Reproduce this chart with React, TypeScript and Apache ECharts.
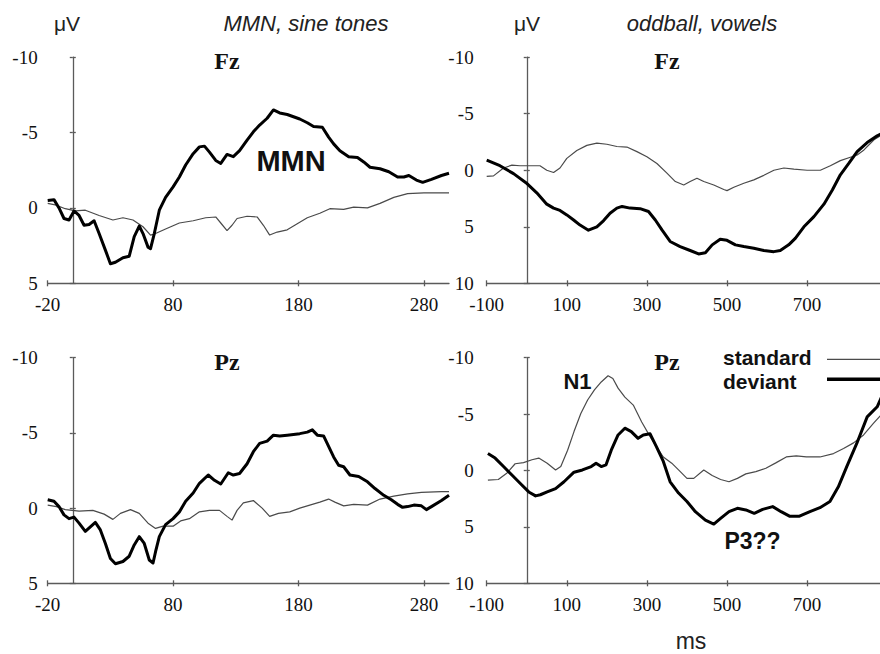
import React, { useEffect, useRef } from "react";
import * as echarts from "echarts";

// ---------- data (ms, µV) ----------
// MMN, sine tones — Fz
const mmnFzStandard: [number, number][] = [
  [-20, -0.3], [-14, -0.2], [-6, 0.05], [2, 0.2], [10, 0.15], [21, 0.5], [32, 0.8], [40, 0.65], [48, 0.8],
  [56, 1.25], [62, 1.8], [66, 1.7], [74, 1.4], [85, 1.0], [96, 0.85], [106, 0.65], [114, 0.6], [118, 1.0],
  [123, 1.5], [127, 1.15], [131, 0.7], [139, 0.55], [147, 0.6], [152, 1.15], [157, 1.8], [163, 1.6],
  [171, 1.45], [179, 1.05], [187, 0.65], [197, 0.35], [205, 0.05], [216, 0.1], [224, -0.05], [235, 0],
  [245, -0.3], [256, -0.7], [267, -0.95], [280, -1.0], [294, -1.0], [300, -1.0],
];
const mmnFzDeviant: [number, number][] = [
  [-20, -0.5], [-15, -0.55], [-11, 0], [-7, 0.7], [-3, 0.8], [1, 0.2], [5, 0.5], [9, 1.15], [13, 1.1],
  [17, 0.85], [21, 1.7], [26, 2.8], [30, 3.7], [34, 3.6], [40, 3.3], [45, 3.2], [49, 1.9], [53, 1.2],
  [56, 1.7], [60, 2.6], [62, 2.7], [65, 1.7], [69, 0.15], [74, -0.7], [80, -1.4], [85, -2.05], [90, -2.85],
  [96, -3.6], [101, -4.05], [105, -4.1], [109, -3.7], [114, -3.15], [118, -2.95], [123, -3.55], [128, -3.4],
  [133, -3.8], [139, -4.5], [144, -5.05], [149, -5.5], [155, -5.95], [160, -6.5], [165, -6.3], [171, -6.2],
  [176, -6.05], [181, -5.9], [187, -5.65], [192, -5.4], [199, -5.35], [204, -4.7], [208, -4.25], [213, -3.8],
  [220, -3.4], [227, -3.35], [232, -3.05], [237, -2.7], [245, -2.6], [252, -2.4], [259, -2.05], [264, -2.05],
  [268, -2.15], [274, -1.85], [279, -1.7], [286, -1.9], [294, -2.15], [300, -2.3],
];

// oddball, vowels — Fz
const oddFzStandard: [number, number][] = [
  [-100, 0.55], [-83, 0.5], [-58, -0.2], [-37, -0.45], [-17, -0.4], [8, -0.4], [33, -0.4], [50, 0],
  [67, 0.2], [83, -0.2], [100, -1.05], [125, -1.75], [150, -2.2], [175, -2.4], [200, -2.3], [225, -2.1],
  [250, -2.05], [275, -1.65], [300, -1.2], [325, -0.6], [350, 0.25], [371, 1.0], [392, 1.3], [408, 1.0],
  [425, 0.7], [442, 1.0], [467, 1.3], [492, 1.7], [500, 1.8], [517, 1.5], [542, 1.15], [567, 0.85],
  [592, 0.45], [617, 0], [642, -0.2], [667, -0.1], [700, 0], [733, 0], [758, -0.4], [783, -0.85],
  [808, -1.15], [825, -1.35], [842, -1.8], [867, -2.7], [890, -3.2],
];
const oddFzDeviant: [number, number][] = [
  [-100, -0.9], [-67, -0.4], [-33, 0.3], [-2, 1.1], [25, 2.0], [50, 3.0], [67, 3.35], [83, 3.55],
  [100, 3.95], [117, 4.4], [133, 4.85], [154, 5.3], [175, 5.0], [192, 4.45], [208, 3.8], [225, 3.35],
  [238, 3.2], [258, 3.35], [283, 3.4], [304, 3.65], [321, 4.4], [338, 5.3], [358, 6.3], [383, 6.75],
  [408, 7.1], [429, 7.4], [446, 7.3], [463, 6.6], [483, 6.1], [500, 6.2], [521, 6.6], [542, 6.75],
  [567, 6.9], [592, 7.1], [617, 7.2], [633, 7.1], [654, 6.6], [671, 6.0], [692, 5.0], [717, 4.1],
  [742, 3.0], [763, 1.75], [783, 0.4], [804, -0.6], [825, -1.65], [850, -2.45], [875, -3.05], [890, -3.3],
];

// MMN, sine tones — Pz
const mmnPzStandard: [number, number][] = [
  [-20, -0.2], [-13, -0.1], [-6, 0.1], [5, 0.2], [16, 0.15], [25, 0.4], [32, 0.75], [38, 0.35], [46, 0.1],
  [53, 0.35], [60, 1.0], [66, 1.35], [72, 1.2], [80, 1.2], [86, 0.85], [93, 0.7], [101, 0.25], [109, 0.15],
  [117, 0.15], [123, 0.55], [127, 0.8], [131, 0.15], [136, -0.35], [144, -0.5], [151, 0], [157, 0.55],
  [164, 0.35], [173, 0.25], [181, 0], [189, -0.2], [197, -0.4], [204, -0.6], [209, -0.4], [216, -0.15],
  [224, -0.25], [235, -0.2], [245, -0.6], [256, -0.8], [267, -0.95], [278, -1.05], [294, -1.1], [300, -1.1],
];
const mmnPzDeviant: [number, number][] = [
  [-20, -0.55], [-15, -0.45], [-11, -0.1], [-7, 0.45], [-3, 0.7], [1, 0.6], [5, 1.0], [10, 1.55],
  [14, 1.25], [18, 0.95], [22, 1.45], [26, 2.35], [30, 3.35], [34, 3.7], [40, 3.55], [45, 3.2], [49, 2.45],
  [53, 1.9], [57, 2.35], [61, 3.45], [64, 3.65], [66, 2.9], [69, 1.9], [74, 1.1], [80, 0.7], [85, 0.25],
  [90, -0.45], [96, -1.0], [101, -1.65], [108, -2.2], [113, -1.85], [118, -1.6], [124, -2.35], [128, -2.2],
  [133, -2.3], [139, -2.95], [144, -3.75], [149, -4.3], [155, -4.45], [160, -4.85], [165, -4.8],
  [171, -4.85], [176, -4.9], [181, -4.95], [187, -5.05], [191, -5.2], [195, -4.85], [200, -4.8],
  [204, -4.1], [208, -3.4], [212, -2.85], [216, -2.75], [221, -2.2], [228, -2.1], [235, -1.75],
  [241, -1.3], [248, -0.85], [254, -0.55], [259, -0.25], [263, -0.05], [267, -0.1], [272, -0.2],
  [278, -0.15], [282, 0.1], [286, -0.1], [294, -0.5], [300, -0.85],
];

// oddball, vowels — Pz
const oddPzStandard: [number, number][] = [
  [-97, 0.85], [-71, 0.8], [-50, 0.25], [-29, -0.6], [-8, -0.7], [13, -0.95], [30, -1.1], [51, -0.65],
  [72, -0.05], [85, -0.35], [102, -1.8], [118, -3.45], [135, -5.05], [152, -6.25], [169, -7.15],
  [186, -7.85], [203, -8.4], [215, -8.15], [228, -7.3], [245, -6.5], [266, -5.8], [287, -4.3], [308, -3.0],
  [324, -2.1], [341, -1.2], [362, -0.65], [379, -0.05], [400, 0.7], [417, 0.7], [442, -0.05], [463, 0.45],
  [484, 0.8], [505, 1.0], [526, 0.7], [547, 0.3], [572, 0.1], [597, -0.2], [623, -0.7], [648, -1.2],
  [673, -1.3], [698, -1.2], [732, -1.2], [766, -1.5], [791, -1.95], [816, -2.45], [841, -3.15],
  [866, -4.2], [892, -5.2],
];
const oddPzDeviant: [number, number][] = [
  [-97, -1.5], [-79, -1.1], [-58, -0.35], [-37, 0.4], [-16, 1.15], [5, 1.9], [22, 2.25], [34, 2.15],
  [51, 1.9], [72, 1.6], [93, 1.0], [118, 0.15], [139, -0.05], [161, -0.35], [173, -0.65], [186, -0.35],
  [198, -0.5], [211, -1.8], [228, -3.15], [245, -3.75], [261, -3.45], [278, -2.85], [291, -3.15],
  [308, -3.25], [324, -2.1], [341, -0.8], [358, 1.0], [379, 2.0], [400, 2.75], [421, 3.65], [446, 4.4],
  [467, 4.75], [484, 4.25], [505, 3.65], [526, 3.35], [547, 3.5], [568, 3.8], [589, 3.45], [614, 3.2],
  [635, 3.65], [656, 4.05], [681, 4.05], [707, 3.65], [732, 3.3], [757, 2.75], [778, 1.45], [799, -0.35],
  [824, -2.4], [850, -4.75], [875, -5.65], [892, -7.0],
];

// tick values
const mmnTicksMs = [-20, 80, 180, 280];
const oddTicksMs = [-100, 100, 300, 500, 700];
const seriesNames = ["standard", "deviant"];

// ---------- styles ----------
const SERIF = '"Liberation Serif", "Times New Roman", serif';
const SANS = '"Liberation Sans", Arial, sans-serif';
const AXIS = "#5a5a5a";
const TEXT = "#111";

type Panel = {
  box: { left: number; top: number; width: number; height: number };
  xMin: number; xMax: number; xStep: number; xTicks: number[];
  yMin: number; yMax: number; yMargin: number;
  std: [number, number][]; dev: [number, number][];
};

const panels: Panel[] = [
  { box: { left: 47.7, top: 57.2, width: 401.3, height: 226.1 }, xMin: -20, xMax: 300, xStep: 100, xTicks: mmnTicksMs, yMin: -10, yMax: 5, yMargin: 10, std: mmnFzStandard, dev: mmnFzDeviant },
  { box: { left: 486.7, top: 57.2, width: 393.3, height: 226.1 }, xMin: -100, xMax: 882, xStep: 200, xTicks: oddTicksMs, yMin: -10, yMax: 10, yMargin: 13, std: oddFzStandard, dev: oddFzDeviant },
  { box: { left: 47.7, top: 357.7, width: 401.3, height: 225.6 }, xMin: -20, xMax: 300, xStep: 100, xTicks: mmnTicksMs, yMin: -10, yMax: 5, yMargin: 10, std: mmnPzStandard, dev: mmnPzDeviant },
  { box: { left: 486.7, top: 357.7, width: 393.3, height: 225.6 }, xMin: -100, xMax: 882, xStep: 200, xTicks: oddTicksMs, yMin: -10, yMax: 10, yMargin: 13, std: oddPzStandard, dev: oddPzDeviant },
];

function buildOption() {
  const grid: any[] = [];
  const xAxis: any[] = [];
  const yAxis: any[] = [];
  const series: any[] = [];
  const labelStyle = { fontFamily: SERIF, fontSize: 19, color: TEXT };

  panels.forEach((p, i) => {
    grid.push({ ...p.box, containLabel: false, outerBoundsMode: "none" });
    const xi = xAxis.length;
    xAxis.push({
      type: "value", gridIndex: i, min: p.xMin, max: p.xMax, interval: p.xStep, position: "bottom",
      axisLine: { show: true, onZero: false, lineStyle: { color: AXIS, width: 1.3 } },
      axisTick: { show: true, inside: false, length: 3, customValues: p.xTicks, lineStyle: { color: AXIS, width: 1.3 } },
      axisLabel: { show: true, customValues: p.xTicks, margin: 12, ...labelStyle },
      splitLine: { show: false },
    });
    xAxis.push({
      type: "value", gridIndex: i, min: p.xMin, max: p.xMax, interval: p.xStep, position: "bottom",
      axisLine: { show: false, onZero: false },
      axisTick: { show: true, inside: true, length: 3, customValues: p.xTicks, lineStyle: { color: AXIS, width: 1.3 } },
      axisLabel: { show: false },
      splitLine: { show: false },
    });
    const yi = yAxis.length;
    const yBase = { type: "value", gridIndex: i, min: p.yMin, max: p.yMax, interval: 5, inverse: true, position: "left", splitLine: { show: false } };
    yAxis.push({
      ...yBase,
      axisLine: { show: false, onZero: false },
      axisTick: { show: false },
      axisLabel: { show: true, margin: p.yMargin, ...labelStyle },
    });
    yAxis.push({
      ...yBase,
      axisLine: { show: true, onZero: true, onZeroAxisIndex: xi, lineStyle: { color: AXIS, width: 1.3 } },
      axisTick: { show: true, inside: false, length: 3, lineStyle: { color: AXIS, width: 1.3 } },
      axisLabel: { show: false },
    });
    yAxis.push({
      ...yBase,
      axisLine: { show: false, onZero: true, onZeroAxisIndex: xi },
      axisTick: { show: true, inside: true, length: 3, lineStyle: { color: AXIS, width: 1.3 } },
      axisLabel: { show: false },
    });
    series.push({
      name: seriesNames[0], type: "line", xAxisIndex: xi, yAxisIndex: yi, data: p.std,
      symbol: "none", showSymbol: false, clip: true, z: 3,
      lineStyle: { color: "#4a4a4a", width: 1.2 },
    });
    series.push({
      name: seriesNames[1], type: "line", xAxisIndex: xi, yAxisIndex: yi, data: p.dev,
      symbol: "none", showSymbol: false, clip: true, z: 4,
      lineStyle: { color: "#000", width: 3, join: "round" },
    });
  });

  const txt = (text: string, x: number, y: number, font: string, align = "center", fill = TEXT) => ({
    type: "text", x, y, z: 100,
    style: { text, font, fill, textAlign: align, align, textVerticalAlign: "middle", verticalAlign: "middle" },
  });
  const seg = (x1: number, x2: number, y: number, stroke: string, lineWidth: number) => ({
    type: "line", z: 100, shape: { x1, y1: y, x2, y2: y }, style: { stroke, lineWidth },
  });

  const graphic = [
    txt("μV", 67, 23, `21px ${SANS}`, "center", "#222"),
    txt("μV", 527, 23, `21px ${SANS}`, "center", "#222"),
    txt("MMN, sine tones", 306, 23, `italic 22px ${SANS}`, "center", "#222"),
    txt("oddball, vowels", 702, 23, `italic 22px ${SANS}`, "center", "#222"),
    txt("Fz", 227, 61, `bold 24px ${SERIF}`),
    txt("Fz", 667, 61, `bold 24px ${SERIF}`),
    txt("Pz", 227, 362, `bold 24px ${SERIF}`),
    txt("Pz", 667, 362, `bold 24px ${SERIF}`),
    txt("MMN", 291, 160.5, `bold 29px ${SANS}`),
    txt("N1", 577.5, 381, `bold 22px ${SANS}`),
    txt("P3??", 752.5, 541, `bold 23px ${SANS}`),
    txt(seriesNames[0], 723, 357.7, `bold 21px ${SANS}`, "left"),
    txt(seriesNames[1], 723, 381.7, `bold 21px ${SANS}`, "left"),
    seg(827, 880, 359.3, "#4a4a4a", 1.2),
    seg(827, 880, 379.3, "#000", 3.5),
    txt("ms", 691, 641, `23px ${SANS}`, "center", "#222"),
  ];

  return {
    animation: false,
    backgroundColor: "#fff",
    grid,
    xAxis,
    yAxis,
    series,
    graphic,
  };
}

export default function App() {
  const ref = useRef<HTMLDivElement>(null);
  useEffect(() => {
    if (!ref.current) return;
    const chart = echarts.init(ref.current, null, { renderer: "svg" });
    chart.setOption(buildOption() as any);
    return () => chart.dispose();
  }, []);
  return (
    <div
      ref={ref}
      style={{ position: "fixed", left: 0, top: 0, width: 880, height: 654, background: "#fff" }}
    />
  );
}
